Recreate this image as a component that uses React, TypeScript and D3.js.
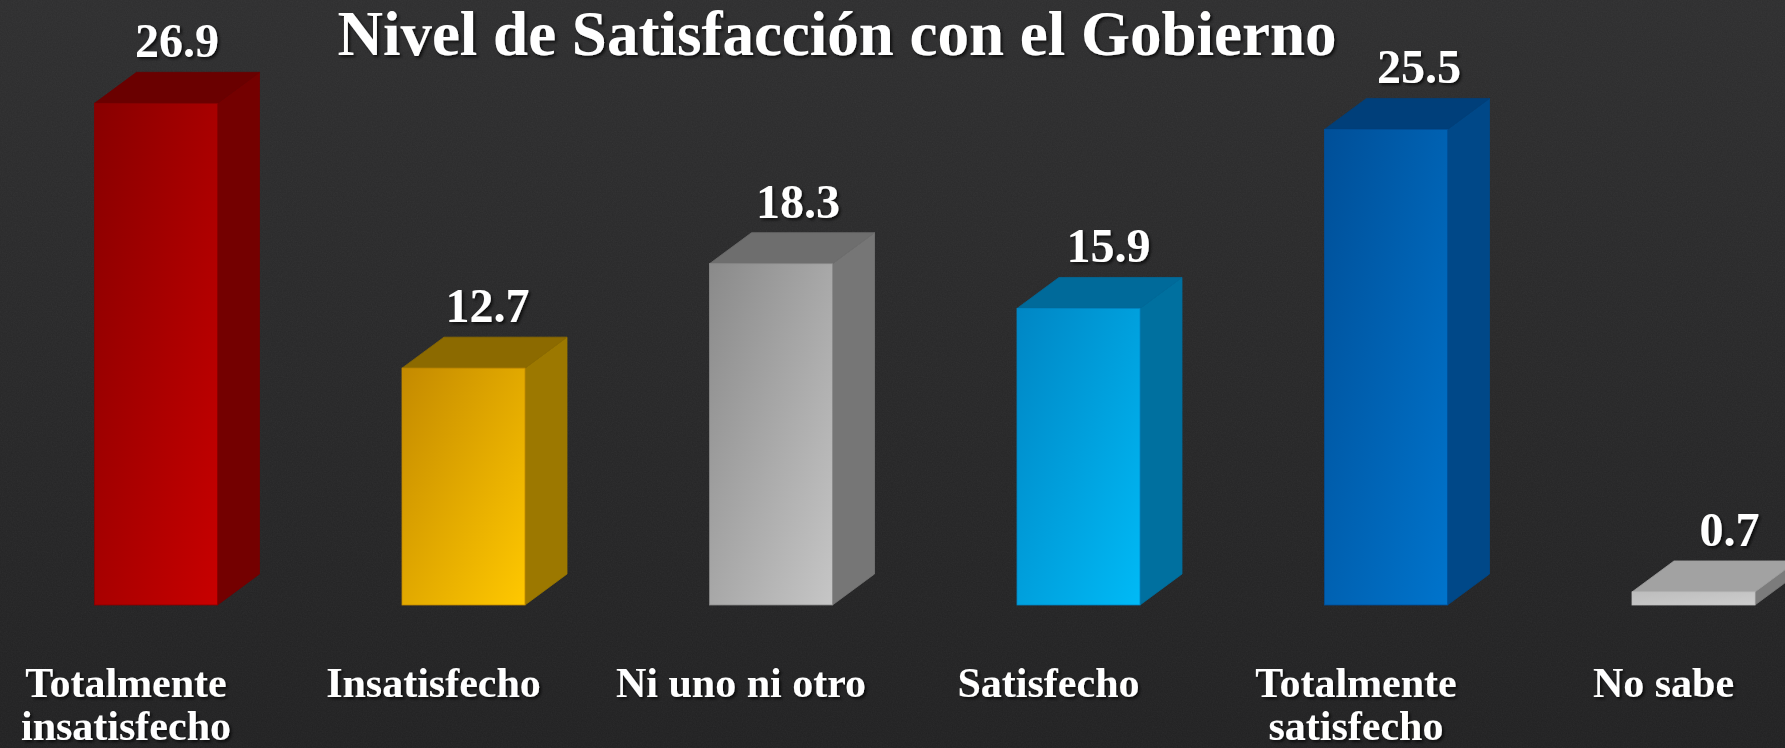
import * as d3 from "d3";

const title = "Nivel de Satisfacción con el Gobierno";
const categories = [
  "Totalmente\ninsatisfecho",
  "Insatisfecho",
  "Ni uno ni otro",
  "Satisfecho",
  "Totalmente\nsatisfecho",
  "No sabe",
];
const values = [26.9, 12.7, 18.3, 15.9, 25.5, 0.7];

// per bar: front gradient (dark -> light), top face, side face
const frontDark = ["#880000", "#c48a00", "#8a8a8a", "#0086c4", "#004f98", "#bdbdbd"];
const frontLight = ["#c80000", "#ffc800", "#c6c6c6", "#00baf6", "#0074cc", "#cdcdcd"];
const topColors = ["#6a0000", "#8c6a00", "#6e6e6e", "#006a9a", "#003f7a", "#a2a2a2"];
const sideColors = ["#740000", "#9c7800", "#767676", "#00709f", "#004888", "#7c7c7c"];

const W = 1785;
const H = 748;
const BASE = 605;
const DX = 42;
const DY = 31;

export default function App() {
  const x = d3
    .scaleBand<string>()
    .domain(categories)
    .range([94.5, 1755])
    .paddingInner(0.6)
    .paddingOuter(0);
  const y = d3.scaleLinear().domain([0, 30]).range([BASE, BASE - 30 * 18.65]);
  const bw = x.bandwidth();

  return (
    <svg
      width={W}
      height={H}
      style={{ position: "absolute", left: 0, top: 0, display: "block" }}
      fontFamily="'Liberation Serif', 'Times New Roman', serif"
    >
      <defs>
        <linearGradient id="bg" x1="0" y1="0" x2="0" y2="1">
          <stop offset="0%" stopColor="#2e2e2f" />
          <stop offset="100%" stopColor="#212122" />
        </linearGradient>
        <filter id="noise" x="0" y="0" width="100%" height="100%">
          <feTurbulence type="fractalNoise" baseFrequency="0.8" numOctaves="2" seed="4" />
          <feColorMatrix type="saturate" values="0" />
          <feComponentTransfer>
            <feFuncA type="table" tableValues="0 0.06" />
          </feComponentTransfer>
        </filter>
        <filter id="shadow" x="-10%" y="-20%" width="120%" height="150%">
          <feDropShadow dx="2" dy="2" stdDeviation="1.5" floodColor="#000" floodOpacity="0.7" />
        </filter>
        {categories.map((c, i) => (
          <linearGradient key={c} id={`front${i}`} x1="0" y1="0" x2="1" y2="1">
            <stop offset="0%" stopColor={frontDark[i]} />
            <stop offset="100%" stopColor={frontLight[i]} />
          </linearGradient>
        ))}
      </defs>

      <rect width={W} height={H} fill="url(#bg)" />
      <rect width={W} height={H} filter="url(#noise)" fill="#fff" />

      <text
        x={837}
        y={55}
        textAnchor="middle"
        fontSize={63}
        fontWeight="bold"
        fill="#fff"
        filter="url(#shadow)"
      >
        {title}
      </text>

      {categories.map((c, i) => {
        const x0 = x(c) as number;
        const x1 = x0 + bw;
        const yt = y(values[i]);
        const top = `${x0},${yt} ${x0 + DX},${yt - DY} ${x1 + DX},${yt - DY} ${x1},${yt}`;
        const side = `${x1},${yt} ${x1 + DX},${yt - DY} ${x1 + DX},${BASE - DY} ${x1},${BASE}`;
        const lx = x0 + bw / 2 - 30;
        return (
          <g key={c}>
            <polygon points={side} fill={sideColors[i]} stroke={sideColors[i]} strokeWidth={0.8} />
            <polygon points={top} fill={topColors[i]} stroke={topColors[i]} strokeWidth={0.8} />
            <rect
              x={x0}
              y={yt}
              width={bw}
              height={BASE - yt}
              fill={`url(#front${i})`}
              stroke={frontDark[i]}
              strokeWidth={0.8}
            />
            <text
              x={x0 + bw / 2 + DX / 2 + i * 3}
              y={yt - DY - 15}
              textAnchor="middle"
              fontSize={48}
              fontWeight="bold"
              fill="#fff"
              filter="url(#shadow)"
            >
              {values[i].toFixed(1)}
            </text>
            {c.split("\n").map((line, j) => (
              <text
                key={j}
                x={lx}
                y={697 + j * 43}
                textAnchor="middle"
                fontSize={42}
                fontWeight="bold"
                fill="#fff"
                filter="url(#shadow)"
              >
                {line}
              </text>
            ))}
          </g>
        );
      })}
    </svg>
  );
}
